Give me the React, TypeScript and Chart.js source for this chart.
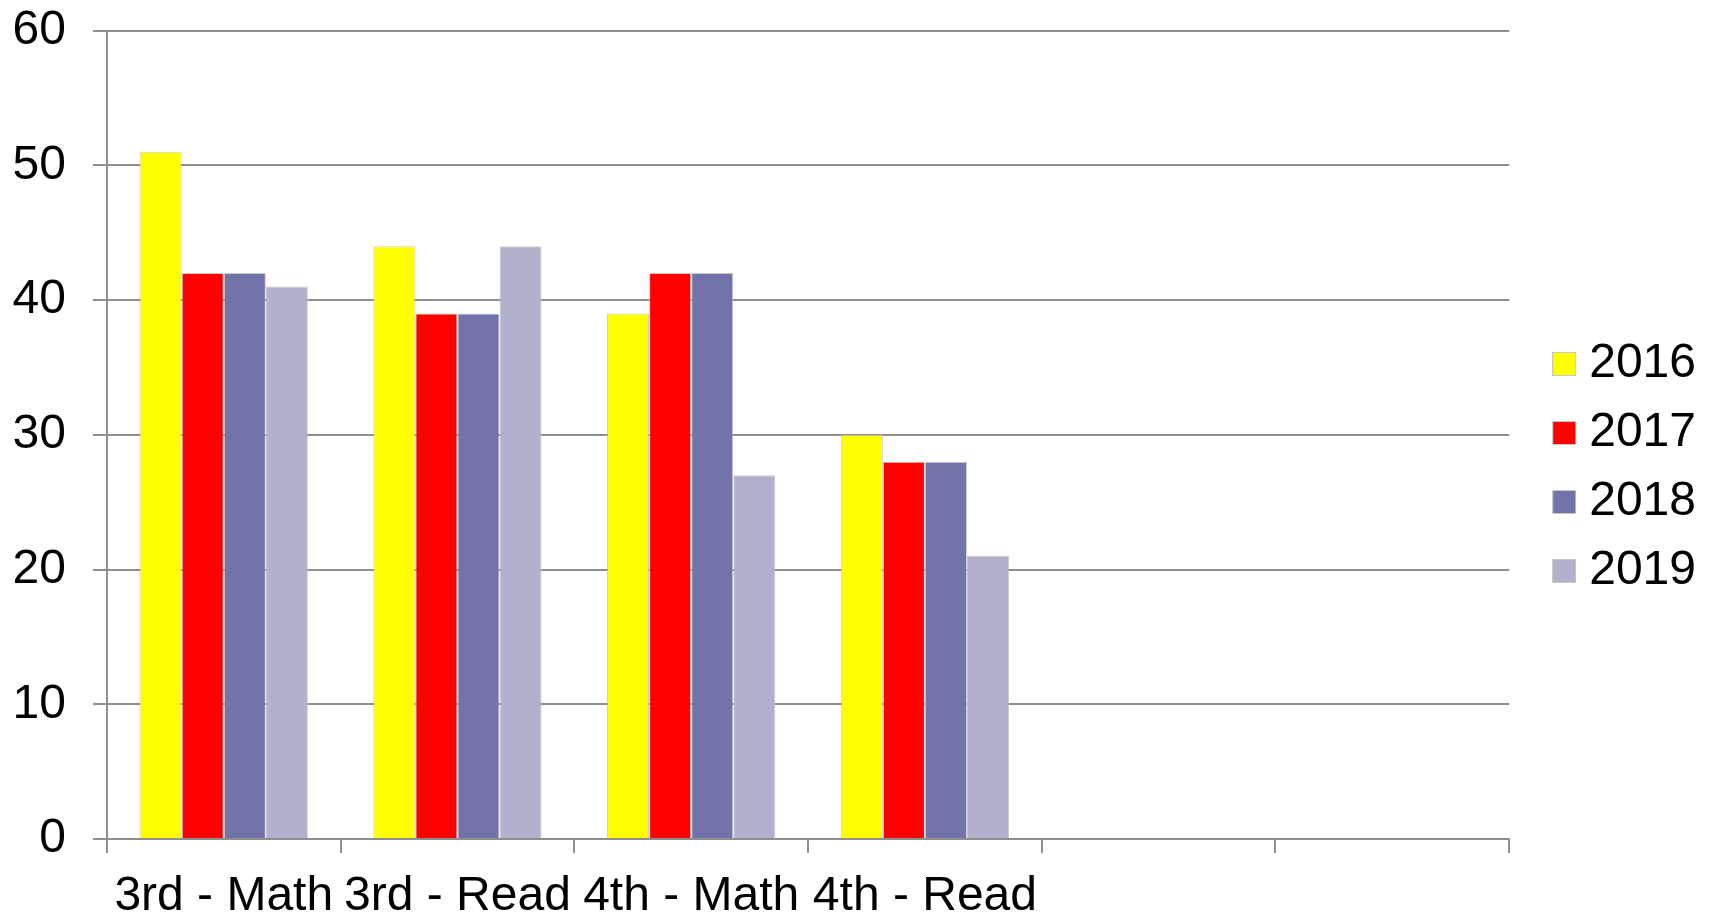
import React, { useEffect, useRef } from "react";
import { Chart, registerables } from "chart.js";

Chart.register(...registerables);

const categories = ["3rd - Math", "3rd - Read", "4th - Math", "4th - Read", "", ""];
const seriesNames = ["2016", "2017", "2018", "2019"];
const values2016 = [51, 44, 39, 30, null, null];
const values2017 = [42, 39, 42, 28, null, null];
const values2018 = [42, 39, 42, 28, null, null];
const values2019 = [41, 44, 27, 21, null, null];
const seriesColors = ["#FFFF00", "#FF0000", "#7373AB", "#B1B1CD"];
const yTicks = [0, 10, 20, 30, 40, 50, 60];

const FONT = "'Liberation Sans', Arial, sans-serif";
const GRID = "#8f8f8f";
const FS = 48;

function makeSwatch(color: string): HTMLCanvasElement {
  const c = document.createElement("canvas");
  c.width = 24;
  c.height = 24;
  const g = c.getContext("2d")!;
  g.fillStyle = "#c8c8c8";
  g.fillRect(0, 0, 24, 24);
  g.fillStyle = color;
  g.fillRect(1, 1, 22, 22);
  return c;
}

export default function App() {
  const ref = useRef<HTMLCanvasElement | null>(null);
  useEffect(() => {
    if (!ref.current) return;
    const all = [values2016, values2017, values2018, values2019];
    const swatches = seriesColors.map(makeSwatch);
    const chart = new Chart(ref.current, {
      type: "bar",
      data: {
        labels: categories,
        datasets: all.map((v, i) => ({
          label: seriesNames[i],
          data: v,
          backgroundColor: seriesColors[i],
          borderColor: "rgba(190,190,190,0.8)",
          borderWidth: 1,
          barPercentage: 1,
          categoryPercentage: 0.72,
        })),
      },
      options: {
        animation: false,
        responsive: false,
        maintainAspectRatio: false,
        layout: { padding: { left: -14.5, right: 8, top: -6, bottom: -23 } },
        plugins: {
          tooltip: { enabled: false },
          legend: {
            position: "right",
            labels: {
              usePointStyle: true,
              boxWidth: 2,
              boxHeight: 24,
              padding: 21,
              color: "#000",
              font: { family: FONT, size: FS },
              generateLabels: (ch: any) => {
                const items = Chart.defaults.plugins.legend.labels.generateLabels(ch);
                return items.map((it: any, i: number) => ({ ...it, pointStyle: swatches[i] }));
              },
            },
          },
        },
        scales: {
          x: {
            grid: {
              drawOnChartArea: false,
              drawTicks: true,
              tickLength: 14,
              color: GRID,
              lineWidth: 2,
              offset: true,
            },
            border: { color: GRID, width: 2 },
            ticks: {
              color: "#000",
              padding: 20,
              maxRotation: 0,
              autoSkip: false,
              font: { family: FONT, size: FS, lineHeight: 1 },
            },
          },
          y: {
            min: 0,
            max: 60,
            afterBuildTicks: (axis: any) => {
              axis.ticks = yTicks.map((v) => ({ value: v }));
            },
            grid: {
              color: GRID,
              lineWidth: 2,
              tickLength: 14,
            },
            border: { color: GRID, width: 2 },
            ticks: {
              color: "#000",
              padding: 27,
              autoSkip: false,
              font: { family: FONT, size: FS, lineHeight: 0.15 },
            },
          },
          spacer: {
            type: "linear",
            position: "right",
            display: true,
            grid: { display: false },
            border: { display: false },
            ticks: { display: false },
            afterFit: (axis: any) => {
              axis.width = 33;
            },
          },
        },
      },
    } as any);
    return () => chart.destroy();
  }, []);
  return (
    <div style={{ margin: "-8px", width: 1714, height: 918, overflow: "hidden" }}>
      <canvas ref={ref} width={1714} height={918} style={{ display: "block", width: 1714, height: 918 }} />
    </div>
  );
}
